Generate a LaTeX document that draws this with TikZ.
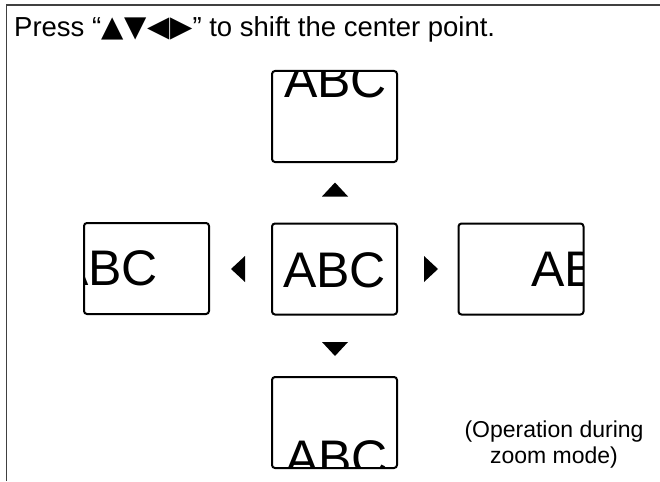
\documentclass[tikz,border=0pt]{standalone}
\usepackage{fontspec}
\setmainfont{Liberation Sans}
\newfontfamily\symfont{DejaVu Sans}
\begin{document}
\begin{tikzpicture}[x=1pt, y=-1pt,
  abc/.style={inner sep=0pt, font=\fontsize{50}{50}\selectfont},
  screen/.style 2 args={draw, line width=2pt, rounded corners=3pt,
    minimum width=125pt, minimum height=91pt, inner sep=0pt,
    path picture={\node[abc] at ([shift={(#1,#2)}]path picture bounding box.center) {ABC};}}]
  \useasboundingbox (0,0) rectangle (660,481);
  % Rahmen: nur linke und obere Kante
  \draw[line width=1.5pt, black!75] (6.5,481) -- (6.5,5) -- (660,5);
  \node[anchor=base west, inner sep=0pt, font=\fontsize{27.5}{30}\selectfont] (title) at (14,37)
    {Press “{\symfont\fontsize{29}{30}\selectfont ▲\kern.5pt▼\kern1pt◀\kern.5pt▶}” to shift the center point.};
  % Bildschirme, Text jeweils verschoben und abgeschnitten
  \node[screen={0}{1}]     (mid)    at (334.5,269)   {};
  \node[screen={1}{-36.5}] (top)    at (334.5,116.5) {};
  \node[screen={2}{35.5}]  (bottom) at (334.5,422.5) {};
  \node[screen={-40}{0}]   (left)   at (146.5,268.5) {};
  \node[screen={62}{0}]    (right)  at (521,269)     {};
  % Pfeile
  \foreach \cx/\cy/\r in {335/189.5/90, 335/349/-90, 238/269/180, 431/269/0}
    \fill[shift={(\cx,\cy)}, rotate=\r] (7,0) -- (-7,13) -- (-7,-13) -- cycle;
  \node[align=center, inner sep=0pt, font=\fontsize{23}{26}\selectfont] (note) at (554,445)
    {(Operation during\\zoom mode)};
\end{tikzpicture}
\end{document}
